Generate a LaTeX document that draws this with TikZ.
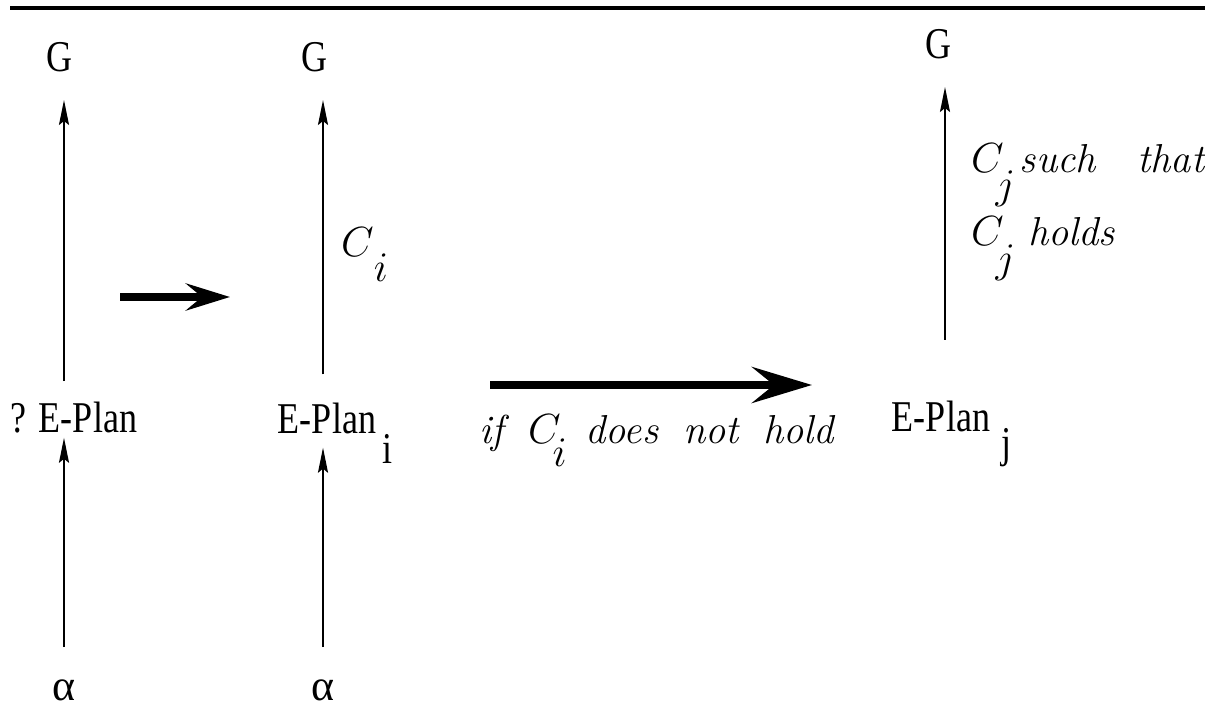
\documentclass[tikz,border=0pt]{standalone}
\usepackage{fontspec}
\setmainfont{Liberation Serif}[FakeStretch=0.82]
\newfontfamily\wideserif{Liberation Serif}
\usetikzlibrary{arrows.meta}
\newcommand{\cmit}[1]{{\fontfamily{lmr}\fontshape{it}\selectfont #1}}
\newcommand{\lowsub}[3][0.6em]{#2\rlap{\smash{\raisebox{-#1}{#3}}}}

\begin{document}
\begin{tikzpicture}[
  x=0.1mm,y=-0.1mm,
  lbl/.style={font=\fontsize{12.5}{14}\selectfont,inner sep=1pt},
  cond/.style={font=\fontsize{11.5}{21}\selectfont,inner sep=1pt},
  up/.style={-{Stealth[length=2.5mm,width=1mm,inset=0.4mm]},line width=0.6pt},
  fat/.style={-{Stealth[length=4.4mm,width=2.7mm,inset=1.6mm]},line width=2pt},
  fatter/.style={-{Stealth[length=6mm,width=3.6mm,inset=2.2mm]},line width=2.4pt}
]
\useasboundingbox (0,0) rectangle (1205,707);
\draw[line width=1pt] (10,8) -- (1205,8);

% the plan before the check
\node[lbl] (g1) at (60,57) {G};
\node[lbl] (p1) at (74,418) {? E-Plan};
\node[lbl] (a1) at (64,690) {\wideserif α};
\draw[up,shorten <=1.7mm,shorten >=2.4mm] (p1.north -| a1) -- (g1.south -| a1);
\draw[up,shorten <=2.8mm] (a1) -- (p1.south -| a1);

% the chosen plan
\node[lbl] (g2) at (315,57) {G};
\node[lbl] (p2) at (327,418) {\lowsub[0.7em]{E-Plan}{\hspace{0.15em}i}};
\node[lbl] (a2) at (323,690) {\wideserif α};
\node[cond,anchor=base west] (ci) at (337,257) {\lowsub{$C$}{$i$}};
\draw[up,shorten <=2.4mm,shorten >=2.4mm] (p2.north -| a2) -- (g2.south -| a2);
\draw[up,shorten <=2.8mm,shorten >=1mm] (a2) -- (p2.south -| a2);

% the plan taken instead
\node[lbl] (g3) at (939,44) {G};
\node[lbl] (p3) at (941,416) {\lowsub{E-Plan}{\hspace{0.25em}j}};
\coordinate (t3) at (945,340);
\node[cond,align=left,anchor=base west] (cj) at (967,246)
  {\makebox[23.3mm][s]{\lowsub[0.65em]{$C$}{\hspace{-0.2em}$j$}\hspace{0.4em}\cmit{such}\hfill\cmit{that}}\\
   \lowsub[0.65em]{$C$}{\hspace{-0.2em}$j$}\hspace{0.6em}\cmit{holds}};
\draw[up,shorten >=2.4mm] (t3) -- (g3.south -| t3);

% moves between the plans
\coordinate (s1) at (120,297);
\coordinate (s2) at (230,297);
\draw[fat] (s1) -- (s2);
\coordinate (m1) at (490,385);
\coordinate (m2) at (812,385);
\draw[fatter] (m1) -- (m2);
\node[cond,anchor=base west] (nc) at (475,444)
  {\makebox[35.5mm][s]{\cmit{if} \lowsub[0.55em]{$C$}{\hspace{-0.2em}$i$} \cmit{does} \cmit{not} \cmit{hold}}};
\end{tikzpicture}
\end{document}
